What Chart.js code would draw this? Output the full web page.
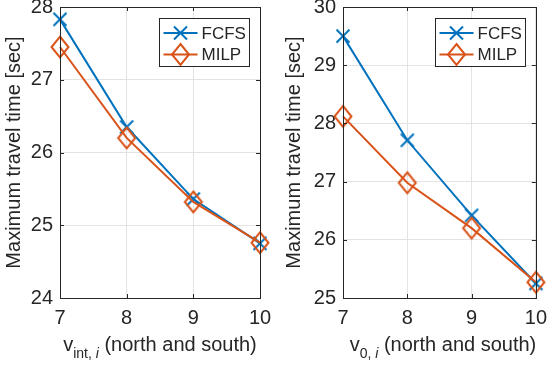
<!DOCTYPE html>
<html>
<head>
<meta charset="utf-8">
<script src="https://cdn.jsdelivr.net/npm/chart.js@4.4.1/dist/chart.umd.min.js"></script>
<style>
  body { margin: 0; background: #fff; width: 555px; height: 366px; position: relative; overflow: hidden;
         font-family: "Liberation Sans", Arial, sans-serif; color: #262626; }
  .c { position: absolute; top: -12px; height: 378px; }
  .xt { position: absolute; top: 332px; width: 200px; text-align: center; font-size: 20px; line-height: 24px; white-space: nowrap; }
  .xt sub { font-size: 14px; vertical-align: -7px; line-height: 0; }
</style>
</head>
<body>
<div class="c" style="left:0;width:280px"><canvas id="left" width="280" height="378"></canvas></div>
<div class="c" style="left:280px;width:275px"><canvas id="right" width="275" height="378"></canvas></div>
<div class="xt" style="left:60px">v<sub>int, <i>i</i></sub> (north and south)</div>
<div class="xt" style="left:343px">v<sub>0, <i>i</i></sub> (north and south)</div>
<script>
// speeds on the x axis (same for both panels)
const speeds = [7, 8, 9, 10];

// left panel: v_int,i
const fcfsInt = [27.83, 26.35, 25.36, 24.75];
const milpInt = [27.45, 26.2, 25.32, 24.76];
const yTicksInt = [24, 25, 26, 27, 28];

// right panel: v_0,i
const fcfsV0 = [29.5, 27.71, 26.42, 25.25];
const milpV0 = [28.12, 26.98, 26.2, 25.27];
const yTicksV0 = [25, 26, 27, 28, 29, 30];

const blue = '#0072BD';
const orange = '#D95319';
const axisColor = '#262626';
const gridColor = '#e3e3e3';
const fontFamily = '"Liberation Sans", Arial, sans-serif';

// matlab style markers: x is 13px square, diamond is 17 wide by 21 tall
function drawMarker(ctx, kind, x, y, color) {
  ctx.save();
  ctx.strokeStyle = color;
  ctx.lineWidth = 2;
  ctx.beginPath();
  if (kind === 'x') {
    const d = 6.5;
    ctx.moveTo(x - d, y - d); ctx.lineTo(x + d, y + d);
    ctx.moveTo(x - d, y + d); ctx.lineTo(x + d, y - d);
  } else {
    const hw = 8.5, hh = 10.5;
    ctx.moveTo(x, y - hh); ctx.lineTo(x + hw, y); ctx.lineTo(x, y + hh); ctx.lineTo(x - hw, y); ctx.closePath();
  }
  ctx.stroke();
  ctx.restore();
}

function markerImage(kind, color) {
  const c = document.createElement('canvas');
  c.width = 24; c.height = 26;
  drawMarker(c.getContext('2d'), kind, 12, 13, color);
  return c;
}

// box, inward ticks and legend like the matlab figure
const matlabBox = {
  id: 'matlabBox',
  afterDraw(chart) {
    const ctx = chart.ctx;
    const a = chart.chartArea;
    const xs = chart.scales.x, ys = chart.scales.y;
    ctx.save();
    ctx.strokeStyle = axisColor;
    ctx.lineWidth = 1;
    ctx.beginPath();
    xs.ticks.forEach(t => {
      const px = Math.round(xs.getPixelForValue(t.value)) + 0.5;
      ctx.moveTo(px, a.bottom); ctx.lineTo(px, a.bottom - 4);
      ctx.moveTo(px, a.top); ctx.lineTo(px, a.top + 4);
    });
    ys.ticks.forEach(t => {
      const py = Math.round(ys.getPixelForValue(t.value)) + 0.5;
      ctx.moveTo(a.left, py); ctx.lineTo(a.left + 4, py);
      ctx.moveTo(a.right, py); ctx.lineTo(a.right - 4, py);
    });
    ctx.stroke();
    ctx.strokeRect(Math.round(a.left) + 0.5, Math.round(a.top) + 0.5, Math.round(a.right - a.left), Math.round(a.bottom - a.top));

    // legend
    const w = 90, h = 48;
    const lx = Math.round(a.right - 11 - w) + 0.5, ly = Math.round(a.top + 11) + 0.5;
    ctx.fillStyle = '#fff';
    ctx.fillRect(lx, ly, w, h);
    ctx.strokeRect(lx, ly, w, h);
    ctx.font = '17px ' + fontFamily;
    ctx.textBaseline = 'middle';
    chart.data.datasets.forEach((ds, i) => {
      const ry = ly + 14.5 + i * 21.5;
      ctx.strokeStyle = ds.borderColor;
      ctx.lineWidth = 2;
      ctx.beginPath();
      ctx.moveTo(lx + 4, ry); ctx.lineTo(lx + 38, ry);
      ctx.stroke();
      drawMarker(ctx, ds.marker, lx + 21, ry, ds.borderColor);
      ctx.fillStyle = axisColor;
      ctx.fillText(ds.label, lx + 42, ry + 1);
    });
    ctx.restore();
  }
};

function makeChart(id, fcfs, milp, yTicks, padRight, leftW) {
  const pts = vals => speeds.map((x, i) => ({ x: x, y: vals[i] }));
  return new Chart(document.getElementById(id), {
    type: 'scatter',
    data: {
      datasets: [
        { label: 'FCFS', marker: 'x', data: pts(fcfs), showLine: true, borderColor: blue, borderWidth: 2,
          pointStyle: markerImage('x', blue), clip: false, order: 1 },
        { label: 'MILP', marker: 'diamond', data: pts(milp), showLine: true, borderColor: orange, borderWidth: 2,
          pointStyle: markerImage('diamond', orange), clip: false, order: 0 }
      ]
    },
    options: {
      responsive: false,
      animation: false,
      layout: { padding: { top: 5, right: padRight, left: 0, bottom: 0 } },
      plugins: { legend: { display: false }, tooltip: { enabled: false } },
      scales: {
        x: {
          type: 'linear', min: speeds[0], max: speeds[speeds.length - 1],
          afterBuildTicks: s => { s.ticks = speeds.map(v => ({ value: v })); },
          afterFit: s => { s.height = 68; },
          grid: { color: gridColor, drawTicks: false },
          border: { display: false },
          ticks: { padding: 8, color: axisColor, font: { family: fontFamily, size: 20 } }
        },
        y: {
          type: 'linear', min: yTicks[0], max: yTicks[yTicks.length - 1],
          afterBuildTicks: s => { s.ticks = yTicks.map(v => ({ value: v })); },
          afterFit: s => { s.width = leftW; },
          grid: { color: gridColor, drawTicks: false },
          border: { display: false },
          ticks: { padding: 7, color: axisColor, font: { family: fontFamily, size: 20 } },
          title: { display: true, text: 'Maximum travel time [sec]', color: axisColor,
                   font: { family: fontFamily, size: 20 }, padding: { top: 2, bottom: 0 } }
        }
      }
    },
    plugins: [matlabBox]
  });
}

makeChart('left', fcfsInt, milpInt, yTicksInt, 20, 60);
makeChart('right', fcfsV0, milpV0, yTicksV0, 12, 63);
</script>
</body>
</html>
